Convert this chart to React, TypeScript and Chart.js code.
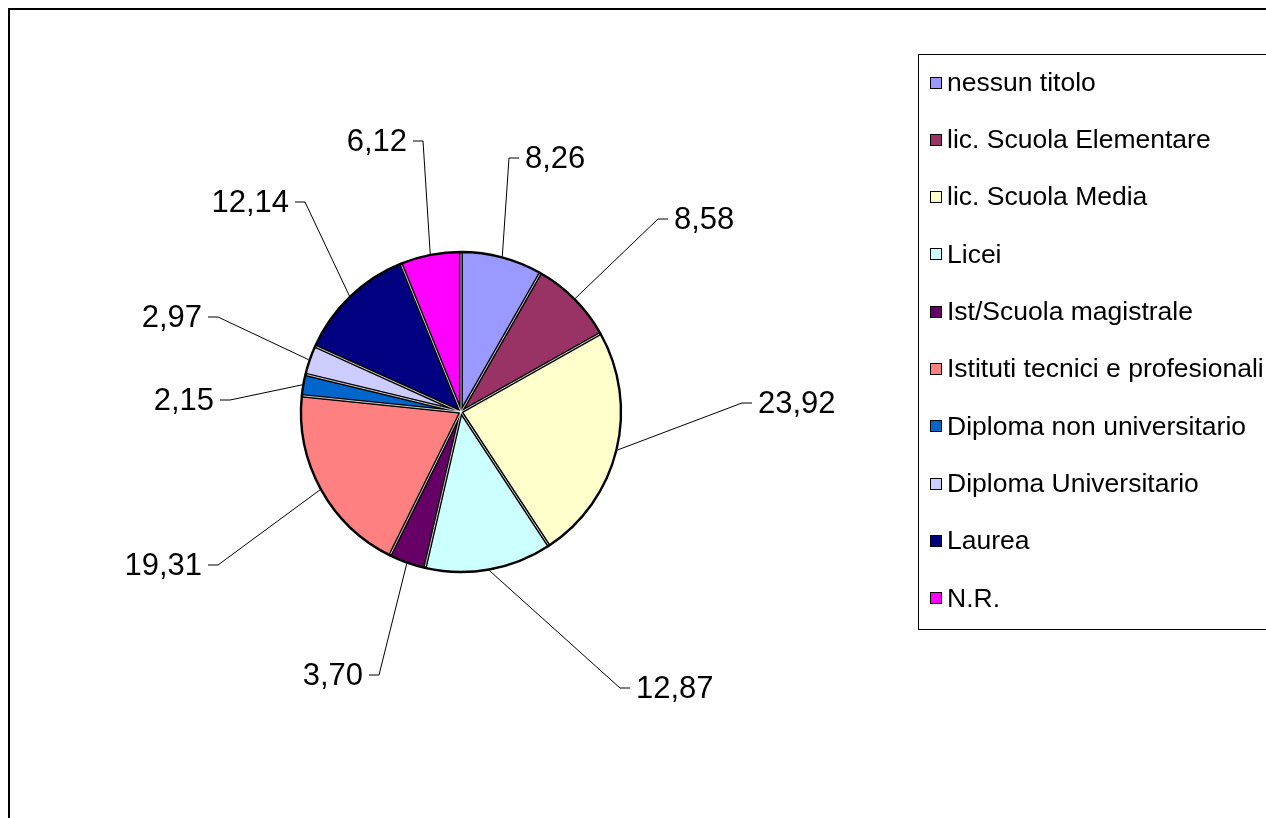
import React, { useEffect, useRef } from "react";
import { Chart, registerables } from "chart.js";

Chart.register(...registerables);

// ---- data ----
const categories = [
  "nessun titolo",
  "lic. Scuola Elementare",
  "lic. Scuola Media",
  "Licei",
  "Ist/Scuola magistrale",
  "Istituti tecnici e profesionali",
  "Diploma non universitario",
  "Diploma Universitario",
  "Laurea",
  "N.R.",
];
const values = [8.26, 8.58, 23.92, 12.87, 3.7, 19.31, 2.15, 2.97, 12.14, 6.12];
const colors = [
  "#9999FF",
  "#993366",
  "#FFFFCC",
  "#CCFFFF",
  "#660066",
  "#FF8080",
  "#0066CC",
  "#CCCCFF",
  "#000080",
  "#FF00FF",
];

// ---- layout of the data labels (elbow offset from pie centre, side of text) ----
const labelElbows: [number, number, "r" | "l"][] = [
  [48, -254, "r"],
  [197, -193, "r"],
  [281, -9, "r"],
  [159, 276, "r"],
  [-82, 263, "l"],
  [-243, 153, "l"],
  [-231, -12, "l"],
  [-243, -95, "l"],
  [-156, -210, "l"],
  [-38, -271, "l"],
];

const W = 1258;
const H = 810;
const FONT = "'Liberation Sans', Arial, sans-serif";

const fmt = (v: number) => v.toFixed(2).replace(".", ",");

const overlay = {
  id: "overlay",
  afterDatasetsDraw(chart: any) {
    const ctx: CanvasRenderingContext2D = chart.ctx;
    const meta = chart.getDatasetMeta(0);
    ctx.save();
    ctx.lineCap = "butt";
    // double outline between slices: black band with a thin white core
    meta.data.forEach((arc: any) => {
      const p = arc.getProps(["x", "y", "startAngle", "outerRadius"], true);
      const cx = Math.cos(p.startAngle);
      const cy = Math.sin(p.startAngle);
      ctx.strokeStyle = "#000";
      ctx.lineWidth = 3.6;
      ctx.beginPath();
      ctx.moveTo(p.x, p.y);
      ctx.lineTo(p.x + cx * p.outerRadius, p.y + cy * p.outerRadius);
      ctx.stroke();
    });
    meta.data.forEach((arc: any) => {
      const p = arc.getProps(["x", "y", "startAngle", "outerRadius"], true);
      const cx = Math.cos(p.startAngle);
      const cy = Math.sin(p.startAngle);
      ctx.strokeStyle = "#fff";
      ctx.lineWidth = 0.8;
      ctx.beginPath();
      ctx.moveTo(p.x, p.y);
      ctx.lineTo(p.x + cx * (p.outerRadius - 1.5), p.y + cy * (p.outerRadius - 1.5));
      ctx.stroke();
    });
    ctx.restore();
  },
  afterDraw(chart: any) {
    const ctx: CanvasRenderingContext2D = chart.ctx;
    const meta = chart.getDatasetMeta(0);
    ctx.save();

    // outer chart border (left + top visible)
    ctx.strokeStyle = "#000";
    ctx.lineWidth = 2;
    ctx.beginPath();
    ctx.moveTo(1, H + 10);
    ctx.lineTo(1, 1);
    ctx.lineTo(W + 10, 1);
    ctx.stroke();

    // leader lines and labels
    ctx.font = `31px ${FONT}`;
    ctx.textBaseline = "middle";
    meta.data.forEach((arc: any, i: number) => {
      const p = arc.getProps(["x", "y", "startAngle", "endAngle", "outerRadius"], true);
      const mid = (p.startAngle + p.endAngle) / 2;
      const sx = p.x + Math.cos(mid) * (p.outerRadius + 1);
      const sy = p.y + Math.sin(mid) * (p.outerRadius + 1);
      const [dx, dy, side] = labelElbows[i];
      const ex = p.x + dx;
      const ey = p.y + dy;
      const dir = side === "r" ? 1 : -1;
      ctx.strokeStyle = "#000";
      ctx.lineWidth = 1;
      ctx.beginPath();
      ctx.moveTo(sx, sy);
      ctx.lineTo(ex, ey);
      ctx.lineTo(ex + dir * 10, ey);
      ctx.stroke();
      ctx.fillStyle = "#000";
      ctx.textAlign = side === "r" ? "left" : "right";
      ctx.fillText(fmt(values[i]), ex + dir * 16, ey + 1);
    });

    // legend box
    const lx = 910;
    const ly = 46;
    const lb = 621;
    ctx.strokeStyle = "#000";
    ctx.lineWidth = 1;
    ctx.strokeRect(lx + 0.5, ly + 0.5, W + 20 - lx, lb - ly);
    ctx.font = `26.5px ${FONT}`;
    ctx.textAlign = "left";
    ctx.textBaseline = "middle";
    categories.forEach((c, i) => {
      const y = 74.5 + i * 57.3;
      ctx.fillStyle = colors[i];
      ctx.fillRect(922, Math.round(y - 6), 12, 12);
      ctx.strokeStyle = "#000";
      ctx.strokeRect(922.5, Math.round(y - 6) + 0.5, 11, 11);
      ctx.fillStyle = "#000";
      ctx.fillText(c, 939, y + 1);
    });

    ctx.restore();
  },
};

export default function App() {
  const ref = useRef<HTMLCanvasElement>(null);
  useEffect(() => {
    if (!ref.current) return;
    const chart = new Chart(ref.current, {
      type: "pie",
      data: {
        labels: categories,
        datasets: [
          {
            data: values,
            backgroundColor: colors,
            borderColor: "#000",
            borderWidth: 2.4,
          },
        ],
      },
      options: {
        responsive: false,
        animation: false,
        devicePixelRatio: 1,
        radius: 160,
        layout: { padding: { left: 0, top: 0, right: 352, bottom: 2 } },
        plugins: {
          legend: { display: false },
          tooltip: { enabled: false },
          title: { display: false },
        },
      } as any,
      plugins: [overlay],
    });
    return () => chart.destroy();
  }, []);
  return (
    <div style={{ position: "fixed", left: 8, top: 8, width: W, height: H, background: "#fff" }}>
      <canvas ref={ref} width={W} height={H} style={{ display: "block", width: W, height: H }} />
    </div>
  );
}
